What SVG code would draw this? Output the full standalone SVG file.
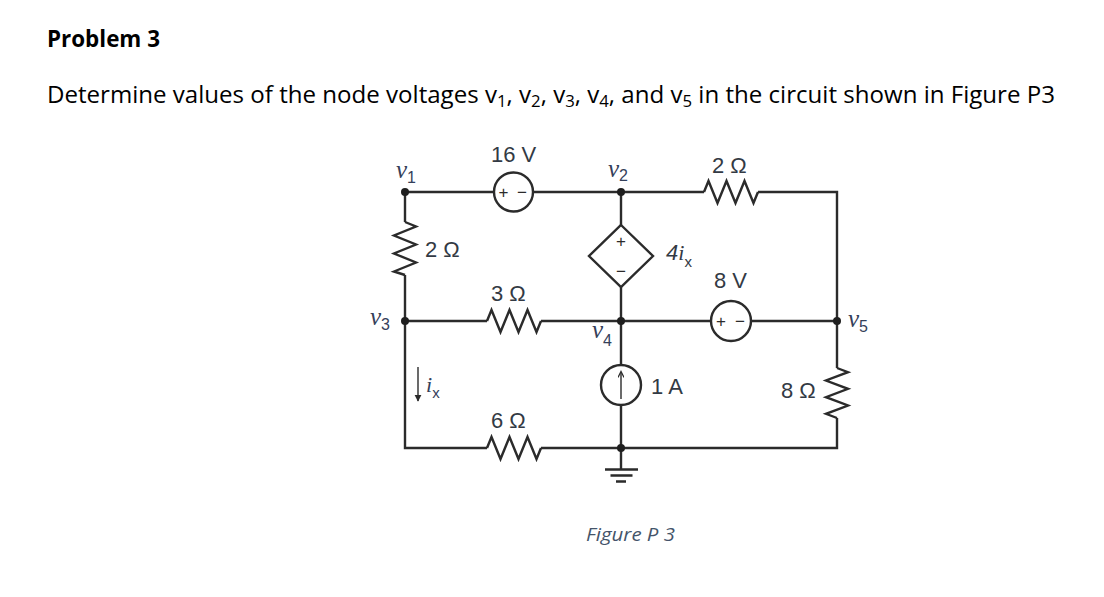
<svg xmlns="http://www.w3.org/2000/svg" width="1104" height="597" viewBox="0 0 1104 597">
<style>
.w{fill:none;stroke:#2b2b2b;stroke-width:2.4;stroke-linejoin:miter}
.thin{fill:none;stroke:#2b2b2b;stroke-width:1.4}
.dot{fill:#1e1e1e}
.val{font-family:"Liberation Sans",Arial,sans-serif;font-size:22px;fill:#333a44}
.sgn{font-family:"Liberation Sans",Arial,sans-serif;font-size:17px;fill:#2b2b2b}
.nv{font-family:"Liberation Serif","Times New Roman",serif;font-style:italic;font-size:25px;fill:#34405a}
.ns{font-family:"Liberation Sans",Arial,sans-serif;font-style:normal;font-size:16px;fill:#34405a}
.ti{font-family:"Open Sans","Noto Sans",sans-serif;fill:#000}
</style>
<defs>
<marker id="ah" viewBox="0 0 10 10" refX="9" refY="5" markerWidth="7" markerHeight="10" markerUnits="userSpaceOnUse" orient="auto">
<path d="M0,0 L10,5 L0,10 z" fill="#2b2b2b"/>
</marker>
<marker id="ah2" viewBox="0 0 10 10" refX="9" refY="5" markerWidth="8" markerHeight="6" markerUnits="userSpaceOnUse" orient="auto">
<path d="M0,0 L10,5 L0,10" fill="none" stroke="#2b2b2b" stroke-width="2"/>
</marker>
</defs>

<g id="title">
<text class="ti" x="47" y="47" font-size="23" font-weight="bold" textLength="113" lengthAdjust="spacingAndGlyphs">Problem 3</text>
<text class="ti" x="47" y="103" font-size="23" textLength="1008" lengthAdjust="spacingAndGlyphs">Determine values of the node voltages v<tspan font-size="16" dy="4">1</tspan><tspan dy="-4">, v</tspan><tspan font-size="16" dy="4">2</tspan><tspan dy="-4">, v</tspan><tspan font-size="16" dy="4">3</tspan><tspan dy="-4">, v</tspan><tspan font-size="16" dy="4">4</tspan><tspan dy="-4">, and v</tspan><tspan font-size="16" dy="4">5</tspan><tspan dy="-4"> in the circuit shown in Figure P3</tspan></text>
</g>

<g id="connectors">
<path class="w" d="M405,192 H494 M533,192 H704 M758,192 H837 V368 M837,418 V448 H541 M487,448 H405 V275 M405,222 V192"/>
<path class="w" d="M405,321 H487 M541,321 H711 M751,321 H837"/>
<path class="w" d="M621,192 V225 M621,287 V365 M621,405 V469"/>
</g>

<g id="R_2ohm_left">
<path class="w" d="M405,222 L416,226.5 L394,235.5 L416,244.5 L394,253.5 L416,262.5 L394,271.5 L405,275"/>
<text class="val" x="425" y="257">2 Ω</text>
</g>

<g id="R_3ohm">
<path class="w" d="M487,321 L491.5,310 L500.5,332 L509.5,310 L518.5,332 L527.5,310 L536.5,332 L541,321"/>
<text class="val" x="491" y="301">3 Ω</text>
</g>

<g id="R_6ohm">
<path class="w" d="M487,448 L491.5,437 L500.5,459 L509.5,437 L518.5,459 L527.5,437 L536.5,459 L541,448"/>
<text class="val" x="491" y="428">6 Ω</text>
</g>

<g id="R_2ohm_top">
<path class="w" d="M704,192 L708.5,181 L717.5,203 L726.5,181 L735.5,203 L744.5,181 L753.5,203 L758,192"/>
<text class="val" x="712" y="173">2 Ω</text>
</g>

<g id="R_8ohm">
<path class="w" d="M837,368 L848,372.2 L826,380.5 L848,388.8 L826,397.2 L848,405.5 L826,413.8 L837,418"/>
<text class="val" x="781" y="398">8 Ω</text>
</g>

<g id="V_16">
<circle class="w" cx="513.5" cy="192" r="19.5" fill="#fff"/>
<text class="sgn" x="503.5" y="198" text-anchor="middle">+</text>
<text class="sgn" x="522" y="198" text-anchor="middle">−</text>
<text class="val" x="491" y="162">16 V</text>
</g>

<g id="V_8">
<circle class="w" cx="731" cy="321" r="20" fill="#fff"/>
<text class="sgn" x="721" y="327" text-anchor="middle">+</text>
<text class="sgn" x="740" y="327" text-anchor="middle">−</text>
<text class="val" x="714" y="288">8 V</text>
</g>

<g id="dep_source">
<path class="w" d="M621,225 L653,256 L621,287 L589,256 Z"/>
<text class="sgn" x="621" y="247" text-anchor="middle">+</text>
<text class="sgn" x="621" y="277" text-anchor="middle">−</text>
<text x="666" y="260" font-family="Liberation Sans,Arial,sans-serif" font-style="italic" font-size="22" fill="#333a44">4<tspan font-family="Liberation Serif,serif">i</tspan><tspan font-style="normal" font-size="15" dy="7">x</tspan></text>
</g>

<g id="I_1A">
<circle class="w" cx="621" cy="385" r="20" fill="#fff"/>
<line class="thin" x1="621" y1="399" x2="621" y2="372" marker-end="url(#ah2)"/>
<text class="val" x="651" y="394">1 A</text>
</g>

<g id="ground">
<path class="w" d="M605,469.5 H638 M610.5,475.5 H632.5 M616,481.5 H626"/>
</g>

<g id="ix_arrow">
<line class="thin" x1="418" y1="367" x2="418" y2="401" marker-end="url(#ah)"/>
<text x="426" y="392" font-family="Liberation Serif,serif" font-style="italic" font-size="22" fill="#34405a">i<tspan font-family="Liberation Sans,Arial,sans-serif" font-style="normal" font-size="15" dy="6">x</tspan></text>
</g>

<g id="nodes">
<circle class="dot" cx="405" cy="192" r="4"/>
<circle class="dot" cx="621" cy="192" r="4"/>
<circle class="dot" cx="405" cy="321" r="4"/>
<circle class="dot" cx="621" cy="321" r="4"/>
<circle class="dot" cx="837" cy="321" r="4"/>
<circle class="dot" cx="621" cy="448" r="4"/>
<text class="nv" x="396" y="178">v<tspan class="ns" dy="5">1</tspan></text>
<text class="nv" x="608" y="177">v<tspan class="ns" dy="4">2</tspan></text>
<text class="nv" x="370" y="325">v<tspan class="ns" dy="5">3</tspan></text>
<text class="nv" x="592" y="338">v<tspan class="ns" dy="8">4</tspan></text>
<text class="nv" x="848" y="327">v<tspan class="ns" dy="5">5</tspan></text>
</g>

<g id="caption">
<text x="586" y="541" font-family="Open Sans,Noto Sans,sans-serif" font-style="italic" font-size="19" fill="#44546a" textLength="89" lengthAdjust="spacingAndGlyphs">Figure P 3</text>
</g>
</svg>
